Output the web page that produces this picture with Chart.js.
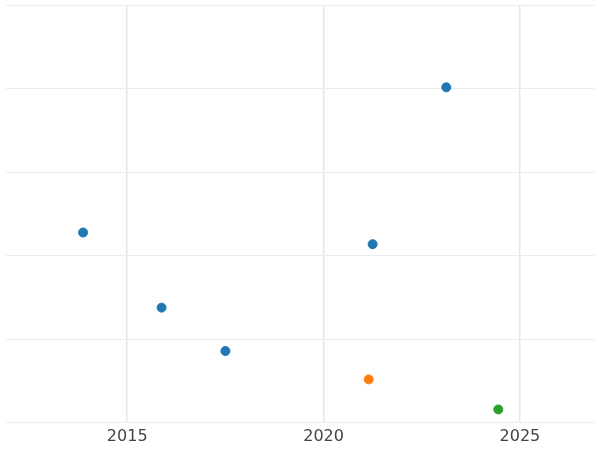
<!DOCTYPE html>
<html>
<head>
<meta charset="utf-8">
<script src="https://cdn.jsdelivr.net/npm/chart.js@4/dist/chart.umd.min.js"></script>
<style>
  html, body { margin: 0; padding: 0; background: #fff; }
  #wrap { width: 600px; height: 450px; }
</style>
</head>
<body>
<div id="wrap"><canvas id="chart"></canvas></div>
<script>
// --- DATA ---
const blueX = [2013.875, 2015.875, 2017.5, 2021.25, 2023.125];
const blueY = [2.28, 1.38, 0.86, 2.14, 4.02];
const orangeX = [2021.15];
const orangeY = [0.52];
const greenX = [2024.45];
const greenY = [0.16];
const xTicks = [2015, 2020, 2025];

function toPoints(xs, ys) {
    return xs.map((x, i) => ({ x: x, y: ys[i] }));
}

function series(xs, ys, color) {
    return {
        data: toPoints(xs, ys),
        backgroundColor: color,
        borderColor: color,
        pointRadius: 4.5,
        pointHoverRadius: 4.5
    };
}

const ctx = document.getElementById('chart').getContext('2d');
new Chart(ctx, {
    type: 'scatter',
    data: {
        datasets: [
            series(blueX, blueY, '#1f77b4'),
            series(orangeX, orangeY, '#ff7f0e'),
            series(greenX, greenY, '#2ca02c')
        ]
    },
    options: {
        responsive: true,
        maintainAspectRatio: false,
        animation: false,
        events: [],
        layout: { padding: { top: -2, left: -6, right: -6, bottom: 0 } },
        plugins: { legend: { display: false }, tooltip: { enabled: false } },
        scales: {
            x: {
                type: 'linear',
                min: 2011.9,
                max: 2026.9,
                afterBuildTicks: (axis) => { axis.ticks = xTicks.map(v => ({ value: v })); },
                ticks: {
                    color: '#444',
                    font: { family: 'DejaVu Sans', size: 16 },
                    padding: 4,
                    callback: (v) => String(v)
                },
                grid: { color: '#e6e6e6', lineWidth: 1.5, drawTicks: false },
                border: { display: false }
            },
            y: {
                min: 0,
                max: 5,
                ticks: { display: false, stepSize: 1 },
                grid: { color: '#ececec', drawTicks: false },
                border: { display: false }
            }
        }
    }
});
</script>
</body>
</html>
